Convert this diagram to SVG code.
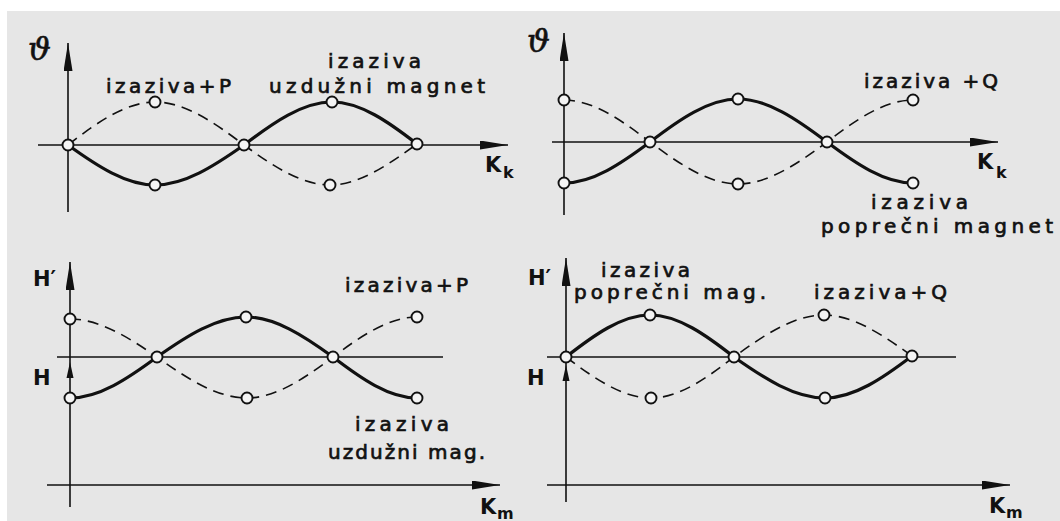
<svg xmlns="http://www.w3.org/2000/svg" width="1060" height="521" viewBox="0 0 1060 521">
<style>
.bg{fill:#e6e6e6}
.ax{stroke:#111;stroke-width:1.6;fill:none}
.sol{stroke:#111;stroke-width:3.2;fill:none;stroke-linecap:round}
.dsh{stroke:#111;stroke-width:1.6;fill:none;stroke-dasharray:11 7}
.pt{fill:#f4f4f4;stroke:#111;stroke-width:1.9}
.t{font-family:"DejaVu Sans",sans-serif;font-size:20px;fill:#111;stroke:#111;stroke-width:0.7}
.k{font-family:"DejaVu Sans",sans-serif;font-weight:bold;font-size:21px;fill:#111}
.ks{font-family:"DejaVu Sans",sans-serif;font-weight:bold;font-size:16px;fill:#111}
.th{font-family:"DejaVu Serif",serif;font-style:italic;font-size:32px;fill:#111;stroke:#111;stroke-width:0.6}
.ah{fill:#111}
</style>
<defs>
<marker id="arr" markerUnits="userSpaceOnUse" markerWidth="30" markerHeight="10" refX="28" refY="4.5" orient="auto">
<path d="M0,0 L28,4.5 L0,9 z" fill="#111"/>
</marker>
</defs>
<rect x="0" y="0" width="1060" height="521" fill="#ffffff"/>
<rect class="bg" x="7" y="11" width="1053" height="510"/>

<g id="connectors">
<line class="ax" x1="68" y1="212" x2="68" y2="43" marker-end="url(#arr)"/>
<line class="ax" x1="38" y1="145" x2="508" y2="145" marker-end="url(#arr)"/>
<line class="ax" x1="564" y1="215" x2="564" y2="33" marker-end="url(#arr)"/>
<line class="ax" x1="552" y1="142" x2="998" y2="142" marker-end="url(#arr)"/>
<line class="ax" x1="70" y1="507" x2="70" y2="262" marker-end="url(#arr)"/>
<line class="ax" x1="57" y1="357" x2="443" y2="357"/>
<line class="ax" x1="47" y1="485" x2="500" y2="485" marker-end="url(#arr)"/>
<polygon class="ah" points="70,362 66.5,378 73.5,378"/>
<line class="ax" x1="566" y1="502" x2="566" y2="258" marker-end="url(#arr)"/>
<line class="ax" x1="547" y1="357" x2="956" y2="357"/>
<line class="ax" x1="547" y1="485" x2="1010" y2="485" marker-end="url(#arr)"/>
<polygon class="ah" points="566,365 562.5,381 569.5,381"/>

<path class="sol" d="M68,145 C97,165.9 126,185 155,185 C184.7,185 214.3,165.9 244,145 C273.3,122.5 302.7,102 332,102 C360.3,102 388.7,122 417,144"/>
<path class="dsh" d="M68,145 C97,122.5 126,102 155,102 C184.7,102 214.3,122.5 244,145 C272.7,165.9 301.3,185 330,185 C359,185 388,165 417,144"/>
<path class="sol" d="M564,183 C592.7,183 621.3,163.5 650,142 C679.3,119.5 708.7,99 738,99 C767.7,99 797.3,119.5 827,142 C855.7,163.5 884.3,183 913,183"/>
<path class="dsh" d="M564,100 C592.7,100 621.3,120 650,142 C679.3,164 708.7,184 738,184 C767.7,184 797.3,164 827,142 C855.7,120 884.3,100 913,100"/>
<path class="sol" d="M70,398 C99,398 128,378.5 157,357 C186.7,336 216.3,317 246,317 C275,317 304,336 333,357 C361,378.5 389,398 417,398"/>
<path class="dsh" d="M70,319 C99,319 128,337 157,357 C187,378.5 217,398 247,398 C275.7,398 304.3,378.5 333,357 C361,336 389,317 417,317"/>
<path class="sol" d="M566,357 C594,335 622,315 650,315 C678,315 706,335 734,357 C764.3,378.5 794.7,398 825,398 C854,398 883,378 912,356"/>
<path class="dsh" d="M566,357 C594.3,378.5 622.7,398 651,398 C679,398 706,378.5 734,357 C764,335 794,315 824,315 C853.3,315 882.7,335 912,356"/>
</g>

<g id="panel1">
<circle class="pt" cx="68" cy="145" r="5.5"/>
<circle class="pt" cx="155" cy="102" r="5.5"/>
<circle class="pt" cx="155" cy="185" r="5.5"/>
<circle class="pt" cx="244" cy="145" r="5.5"/>
<circle class="pt" cx="332" cy="102" r="5.5"/>
<circle class="pt" cx="330" cy="185" r="5.5"/>
<circle class="pt" cx="417" cy="144" r="5.5"/>
<text class="th" x="28" y="60">ϑ</text>
<text class="t" x="106" y="93" textLength="125" lengthAdjust="spacing">izaziva+P</text>
<text class="t" x="328" y="68" textLength="93" lengthAdjust="spacing">izaziva</text>
<text class="t" x="269" y="93" textLength="216" lengthAdjust="spacing">uzdužni  magnet</text>
<text class="k" x="485" y="172">K</text>
<text class="ks" x="503" y="178">k</text>
</g>

<g id="panel2">
<circle class="pt" cx="564" cy="100" r="5.5"/>
<circle class="pt" cx="564" cy="183" r="5.5"/>
<circle class="pt" cx="650" cy="142" r="5.5"/>
<circle class="pt" cx="738" cy="99" r="5.5"/>
<circle class="pt" cx="738" cy="184" r="5.5"/>
<circle class="pt" cx="827" cy="142" r="5.5"/>
<circle class="pt" cx="913" cy="100" r="5.5"/>
<circle class="pt" cx="913" cy="183" r="5.5"/>
<text class="th" x="527" y="52">ϑ</text>
<text class="t" x="864" y="88" textLength="134" lengthAdjust="spacing">izaziva +Q</text>
<text class="k" x="977" y="169">K</text>
<text class="ks" x="996" y="178">k</text>
<text class="t" x="871" y="209" textLength="97" lengthAdjust="spacing">izaziva</text>
<text class="t" x="821" y="233" textLength="232" lengthAdjust="spacing">poprečni  magnet</text>
</g>

<g id="panel3">
<circle class="pt" cx="70" cy="319" r="5.5"/>
<circle class="pt" cx="70" cy="398" r="5.5"/>
<circle class="pt" cx="157" cy="357" r="5.5"/>
<circle class="pt" cx="246" cy="317" r="5.5"/>
<circle class="pt" cx="247" cy="398" r="5.5"/>
<circle class="pt" cx="333" cy="357" r="5.5"/>
<circle class="pt" cx="417" cy="317" r="5.5"/>
<circle class="pt" cx="417" cy="398" r="5.5"/>
<text class="k" x="33" y="286">H′</text>
<text class="k" x="33" y="385">H</text>
<text class="t" x="345" y="292" textLength="123" lengthAdjust="spacing">izaziva+P</text>
<text class="t" x="355" y="431" textLength="94" lengthAdjust="spacing">izaziva</text>
<text class="t" x="328" y="459" textLength="157" lengthAdjust="spacing">uzdužni  mag.</text>
<text class="k" x="480" y="514">K</text>
<text class="ks" x="497" y="519">m</text>
</g>

<g id="panel4">
<circle class="pt" cx="566" cy="357" r="5.5"/>
<circle class="pt" cx="650" cy="315" r="5.5"/>
<circle class="pt" cx="651" cy="398" r="5.5"/>
<circle class="pt" cx="734" cy="357" r="5.5"/>
<circle class="pt" cx="824" cy="315" r="5.5"/>
<circle class="pt" cx="825" cy="398" r="5.5"/>
<circle class="pt" cx="912" cy="356" r="5.5"/>
<text class="k" x="528" y="285">H′</text>
<text class="k" x="527" y="385">H</text>
<text class="t" x="601" y="277" textLength="89" lengthAdjust="spacing">izaziva</text>
<text class="t" x="574" y="299" textLength="192" lengthAdjust="spacing">poprečni  mag.</text>
<text class="t" x="814" y="299" textLength="133" lengthAdjust="spacing">izaziva+Q</text>
<text class="k" x="989" y="513">K</text>
<text class="ks" x="1006" y="518">m</text>
</g>
</svg>
